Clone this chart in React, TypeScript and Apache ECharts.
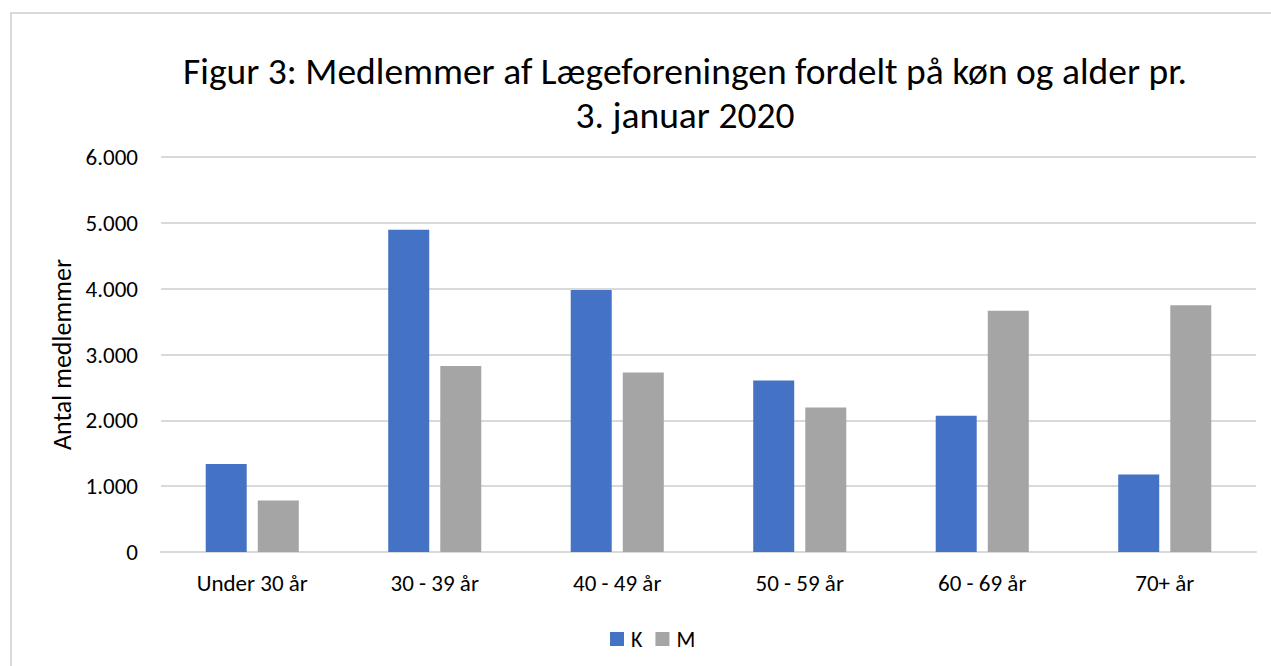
import React, { useEffect, useRef } from "react";
import * as echarts from "echarts";

const categories = ["Under 30 år", "30 - 39 år", "40 - 49 år", "50 - 59 år", "60 - 69 år", "70+ år"];
const seriesK = [1337, 4895, 3980, 2605, 2068, 1178];
const seriesM = [782, 2825, 2725, 2195, 3663, 3748];
const yTicks = { min: 0, max: 6000, interval: 1000 };
const titleLines = ["Figur 3: Medlemmer af Lægeforeningen fordelt på køn og alder pr.", "3. januar 2020"];
const yAxisName = "Antal medlemmer";

const FONT = "Carlito, Lato, 'Open Sans', sans-serif";

function fmt(v: number): string {
  return String(v).replace(/\B(?=(\d{3})+(?!\d))/g, ".");
}

export default function App() {
  const ref = useRef<HTMLDivElement>(null);
  useEffect(() => {
    if (!ref.current) return;
    const chart = echarts.init(ref.current, undefined, { renderer: "svg" });
    chart.setOption({
      animation: false,
      backgroundColor: "#ffffff",
      textStyle: { fontFamily: FONT },
      graphic: [
        {
          type: "rect",
          shape: { x: 11, y: 13, width: 1300, height: 700 },
          style: { fill: "none", stroke: "#d9d9d9", lineWidth: 2 },
          silent: true,
        },
        {
          type: "text",
          x: 685,
          y: 49,
          style: {
            text: titleLines.join("\n"),
            fill: "#000000",
            fontSize: 37.5,
            fontFamily: FONT,
            lineHeight: 44,
            align: "center",
            verticalAlign: "top",
          },
        },
      ],
      legend: {
        top: 623,
        left: 605,
        itemWidth: 14,
        itemHeight: 14,
        itemGap: 13,
        icon: "rect",
        textStyle: { fontSize: 22, color: "#000000", fontFamily: FONT, padding: [0, 0, 0, 2] },
        data: ["K", "M"],
      },
      grid: { left: 161, right: 15, top: 157, bottom: 114, containLabel: false },
      xAxis: {
        type: "category",
        data: categories,
        axisLine: { lineStyle: { color: "#d9d9d9", width: 2 } },
        axisTick: { show: false },
        axisLabel: { color: "#000", fontSize: 23, margin: 19, fontFamily: FONT },
      },
      yAxis: {
        type: "value",
        min: yTicks.min,
        max: yTicks.max,
        interval: yTicks.interval,
        name: yAxisName,
        nameLocation: "middle",
        nameGap: 84,
        nameTextStyle: { fontSize: 26, color: "#000", fontFamily: FONT },
        axisLine: { show: false },
        axisTick: { show: false },
        axisLabel: { color: "#000", fontSize: 23, margin: 23, fontFamily: FONT, formatter: (v: number) => fmt(v) },
        splitLine: { lineStyle: { color: "#d9d9d9", width: 2 } },
      },
      series: [
        {
          name: "K",
          type: "bar",
          data: seriesK,
          barWidth: 41,
          barGap: "27%",
          itemStyle: { color: "#4472c4" },
        },
        {
          name: "M",
          type: "bar",
          data: seriesM,
          barWidth: 41,
          itemStyle: { color: "#a5a5a5" },
        },
      ],
    });
    return () => chart.dispose();
  }, []);
  return (
    <div
      ref={ref}
      style={{ position: "fixed", left: 0, top: 0, width: 1271, height: 666 }}
    />
  );
}
